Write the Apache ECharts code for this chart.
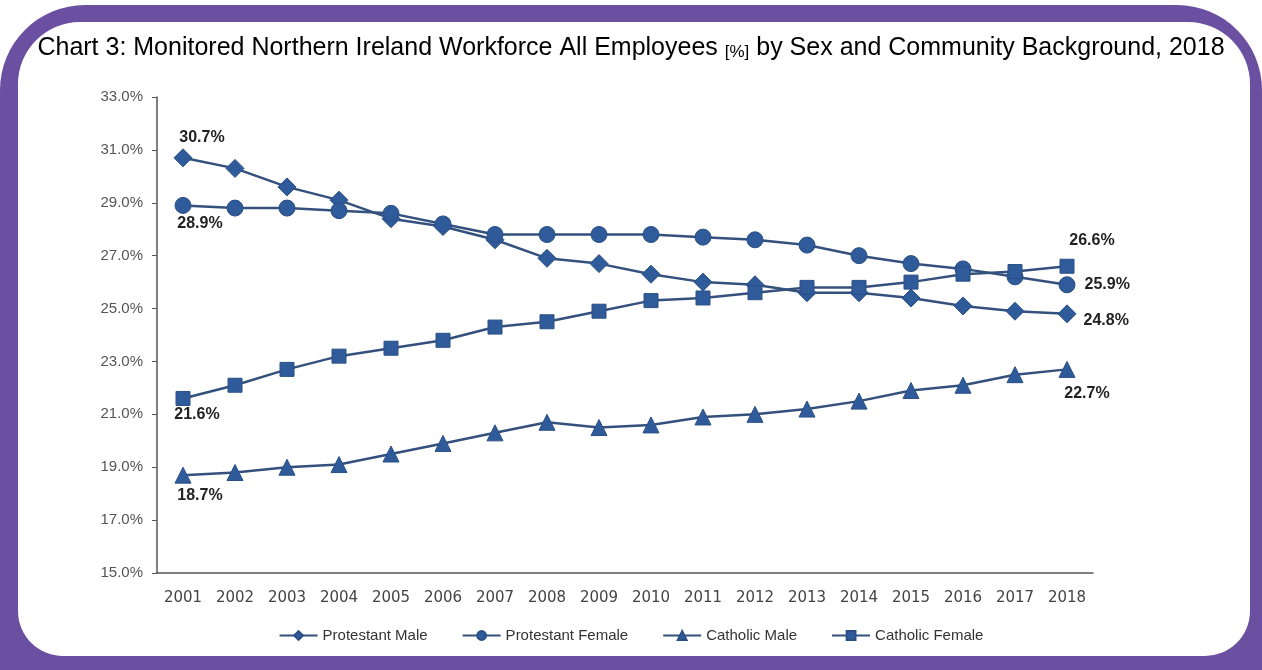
<!DOCTYPE html>
<html><head><meta charset="utf-8">
<script src="https://cdn.jsdelivr.net/npm/echarts@6/dist/echarts.min.js"></script>
<style>html,body{margin:0;padding:0;background:#fff;}#c{width:1262px;height:670px;}</style>
</head><body><div id="c"></div>
<script>
const years = ['2001','2002','2003','2004','2005','2006','2007','2008','2009','2010','2011','2012','2013','2014','2015','2016','2017','2018'];
const protestantMale   = [30.7,30.3,29.6,29.1,28.4,28.1,27.6,26.9,26.7,26.3,26.0,25.9,25.6,25.6,25.4,25.1,24.9,24.8];
const protestantFemale = [28.9,28.8,28.8,28.7,28.6,28.2,27.8,27.8,27.8,27.8,27.7,27.6,27.4,27.0,26.7,26.5,26.2,25.9];
const catholicMale     = [18.7,18.8,19.0,19.1,19.5,19.9,20.3,20.7,20.5,20.6,20.9,21.0,21.2,21.5,21.9,22.1,22.5,22.7];
const catholicFemale   = [21.6,22.1,22.7,23.2,23.5,23.8,24.3,24.5,24.9,25.3,25.4,25.6,25.8,25.8,26.0,26.3,26.4,26.6];
const seriesNames = ['Protestant Male','Protestant Female','Catholic Male','Catholic Female'];

const markerColor = '#2F5B9A';
const lineColor = '#34507C';
const labelStyle = {show:true, color:'#222', fontFamily:'Liberation Sans, Arial', fontSize:16, fontWeight:'bold', formatter: p => p.value.toFixed(1) + '%'};

function build(vals, firstLbl, lastLbl){
  return vals.map((v,i)=>{
    if(i===0) return {value:v, label:Object.assign({}, labelStyle, firstLbl)};
    if(i===vals.length-1) return {value:v, label:Object.assign({}, labelStyle, lastLbl)};
    return v;
  });
}
function mk(name, vals, symbol, size, firstLbl, lastLbl){
  return {
    name, type:'line', data: build(vals, firstLbl, lastLbl),
    symbol, symbolSize:size, showAllSymbol:true,
    itemStyle:{color:markerColor, borderColor:'#2A4F86', borderWidth:1},
    lineStyle:{color:lineColor, width:2.5},
    label:{show:false}, z:3
  };
}

const chart = echarts.init(document.getElementById('c'), null, {renderer:'canvas'});
chart.setOption({
  animation:false,
  backgroundColor:'#fff',
  graphic:[
    {type:'rect', z:-10, shape:{x:0,y:5,width:1262,height:720,r:[85,85,0,0]}, style:{fill:'#6B4FA1'}},
    {type:'rect', z:-9, shape:{x:18,y:22,width:1232,height:634,r:[62,62,45,45]}, style:{fill:'#fff'}},
    {type:'text', left:'center', top:36, style:{
      text:'Chart 3: Monitored Northern Ireland Workforce All Employees {s|[%]} by Sex and Community Background, 2018',
      font:'25px "Liberation Sans", Arial', fill:'#000',
      rich:{s:{fontSize:17, fontFamily:'Liberation Sans', fill:'#000', verticalAlign:'bottom'}}
    }}
  ],
  legend:{
    data:seriesNames, bottom:22, left:'center', itemWidth:38, itemHeight:11, itemGap:34,
    textStyle:{color:'#333', fontSize:15, fontFamily:'Liberation Sans, Arial'}
  },
  grid:{left:157, top:97, width:936, bottom:97, containLabel:false},
  xAxis:{
    type:'category', data:years, boundaryGap:true,
    axisLine:{lineStyle:{color:'#555', width:1.5}},
    axisTick:{inside:true, length:5, lineStyle:{color:'#555'}},
    axisLabel:{color:'#444', fontSize:15, fontFamily:'DejaVu Sans', margin:18}
  },
  yAxis:{
    type:'value', min:15, max:33, interval:2,
    splitLine:{show:false},
    axisLine:{show:true, lineStyle:{color:'#555', width:1.5}},
    axisTick:{show:true, length:5, lineStyle:{color:'#555'}},
    axisLabel:{color:'#555', fontSize:15, fontFamily:'Liberation Sans, Arial', margin:14, formatter: v => v.toFixed(1) + '%'}
  },
  series:[
    mk('Protestant Male', protestantMale, 'diamond', 18, {position:'top', offset:[19,2]}, {position:'right', offset:[2,7]}),
    mk('Protestant Female', protestantFemale, 'circle', 16, {position:'bottom', offset:[17,-3]}, {position:'right', offset:[4,0]}),
    mk('Catholic Male', catholicMale, 'triangle', 16, {position:'bottom', offset:[17,-1]}, {position:'bottom', offset:[20,3]}),
    mk('Catholic Female', catholicFemale, 'rect', 14, {position:'bottom', offset:[14,-4]}, {position:'top', offset:[25,-5]})
  ]
});
</script></body></html>
